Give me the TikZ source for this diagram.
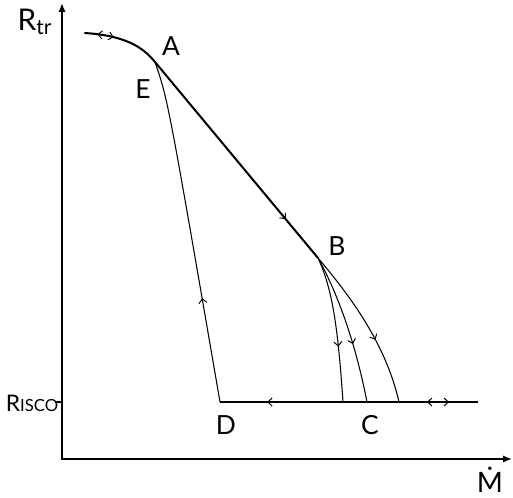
\documentclass[tikz,border=0pt]{standalone}
\usepackage{amsmath}
\usepackage{fontspec}
\setmainfont{Lato}
\usetikzlibrary{arrows.meta, decorations.markings}

\begin{document}
\begin{tikzpicture}[x=0.02cm, y=-0.02cm,
            axis/.style  ={line width=0.85pt, {Latex[length=5pt,width=4pt]}-{Latex[length=5pt,width=4pt]}},
            track/.style ={line width=1.15pt, line cap=round},
            branch/.style={line width=0.6pt},
            lbl/.style   ={font=\fontsize{15}{17}\selectfont, inner sep=0pt},
            fwd/.style   ={postaction={decorate, decoration={markings,
                              mark=at position #1 with {\arrow{Straight Barb[length=2.4pt,width=4.5pt,line width=0.55pt]}}}}},
            bwd/.style   ={postaction={decorate, decoration={markings,
                              mark=at position #1 with {\arrowreversed{Straight Barb[length=2.4pt,width=4.5pt,line width=0.55pt]}}}}}
        ]
            \useasboundingbox (0,0) rectangle (513,497);

            \coordinate (ytop)  at (62,3);
            \coordinate (orig)  at (62,459);
            \coordinate (xend)  at (512,459);
            \coordinate (tick)  at (56,402);
            \coordinate (isco)  at (62,402);
            \coordinate (start) at (85,33);
            \coordinate (ptA)   at (155,62);
            \coordinate (ptB)   at (318,258);
            \coordinate (ptD)   at (220,402);
            \coordinate (ptC1)  at (343,402);
            \coordinate (ptC2)  at (367,402);
            \coordinate (ptC3)  at (399,402);
            \coordinate (far)   at (478,402);

            \node[lbl, font=\fontsize{17}{19}\selectfont] (rtr) at (35,22) {R$_{\text{tr}}$};
            \node[lbl, font=\fontsize{16}{18}\selectfont] (mdot) at (490,480) {\.{M}};
            \node[font=\fontsize{13}{15}\selectfont, inner sep=0pt] (risco) at (32,403) {R{\fontsize{9.5}{11}\selectfont ISCO}};
            \node[lbl] (labA) at (171,46)  {A};
            \node[lbl] (labE) at (143,89)  {E};
            \node[lbl] (labB) at (337,246) {B};
            \node[lbl] (labD) at (226,425) {D};
            \node[lbl] (labC) at (370,425) {C};

            \draw[axis] (ytop) -- (orig) -- (xend);
            \draw[line width=0.6pt] (tick) -- (isco);

            % main track A -> B
            \draw[track, bwd=7pt, fwd=16.5pt, fwd=-28.8pt] (start) .. controls (130,36) and (145,50) .. (ptA) -- (ptB);
            % return branch D -> E
            \draw[branch, fwd=60pt] (ptD) .. controls (168,100) .. (ptA);
            % branches from B
            \draw[branch, fwd=52pt] (ptB) .. controls (333,290) and (338,330) .. (ptC1);
            \draw[branch, fwd=53pt] (ptB) .. controls (336,290) and (355,340) .. (ptC2);
            \draw[branch, fwd=57pt] (ptB) .. controls (345,290) and (385,340) .. (ptC3);
            % bottom line
            \draw[branch, bwd=16.5pt, fwd=29pt, fwd=120pt] (far) -- (ptD);
        \end{tikzpicture}
\end{document}
